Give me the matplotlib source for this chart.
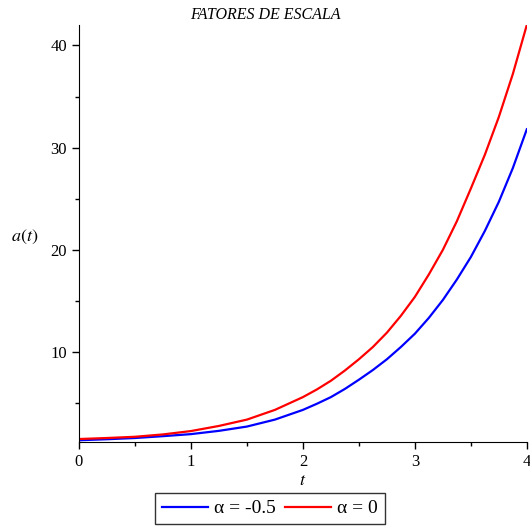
import matplotlib
matplotlib.use('Agg')
import matplotlib.pyplot as plt
from matplotlib.ticker import MultipleLocator

plt.rcParams['font.family'] = ['Liberation Serif', 'DejaVu Serif']
plt.rcParams['mathtext.fontset'] = 'stix'

# Values.
t = [0, 0.25, 0.5, 0.75, 1, 1.25, 1.5, 1.75, 2, 2.125, 2.25, 2.375, 2.5,
     2.625, 2.75, 2.875, 3, 3.125, 3.25, 3.375, 3.5, 3.625, 3.75, 3.875, 4]
a_alpha0 = [1.5, 1.6, 1.72, 1.95, 2.28, 2.78, 3.4, 4.35, 5.6, 6.35, 7.2, 8.2, 9.3,
            10.5, 11.9, 13.55, 15.4, 17.6, 20.0, 22.8, 26.0, 29.3, 33.0, 37.2, 42.0]
a_alpha_m05 = [1.38, 1.48, 1.6, 1.78, 1.98, 2.3, 2.72, 3.4, 4.35, 4.95, 5.6, 6.4, 7.3,
               8.25, 9.3, 10.5, 11.8, 13.35, 15.1, 17.1, 19.3, 21.85, 24.7, 28.0, 31.8]
labels = ['α = -0.5', 'α = 0']

fig = plt.figure(figsize=(5.30, 5.31), dpi=100)
ax = fig.add_axes([0.149, 0.168, 0.845, 0.785])

ax.plot(t, a_alpha_m05, color='#0000ff', lw=1.6, label=labels[0])
ax.plot(t, a_alpha0, color='#ff0000', lw=1.6, label=labels[1])

ax.set_xlim(0, 4)
ax.set_ylim(1.23, 42)

# Maple-like axes: only left and bottom lines
ax.spines['top'].set_visible(False)
ax.spines['right'].set_visible(False)
ax.xaxis.set_major_locator(MultipleLocator(1))
ax.xaxis.set_minor_locator(MultipleLocator(0.5))
ax.yaxis.set_major_locator(MultipleLocator(10))
ax.yaxis.set_minor_locator(MultipleLocator(5))
ax.tick_params(which='major', length=5, width=1, labelsize=12, direction='out')
ax.tick_params(which='minor', length=3, width=1, direction='out')

fig.text(0.5, 0.972, 'FATORES DE ESCALA', ha='center', va='center',
         fontsize=11.5, style='italic')
fig.text(0.047, 0.553, '$a(t)$', ha='center', va='center', fontsize=13)
ax.set_xlabel('$t$', fontsize=13, labelpad=2)

leg = ax.legend(loc='upper center', bbox_to_anchor=((270 - 79) / 448, -0.123),
                ncol=2, frameon=True, fancybox=False, fontsize=14,
                handlelength=2.4, handletextpad=0.3, columnspacing=0.45,
                borderpad=0.35, borderaxespad=0)
leg.get_frame().set_edgecolor('black')
leg.get_frame().set_linewidth(1)

fig.savefig('out.png', dpi=100)
